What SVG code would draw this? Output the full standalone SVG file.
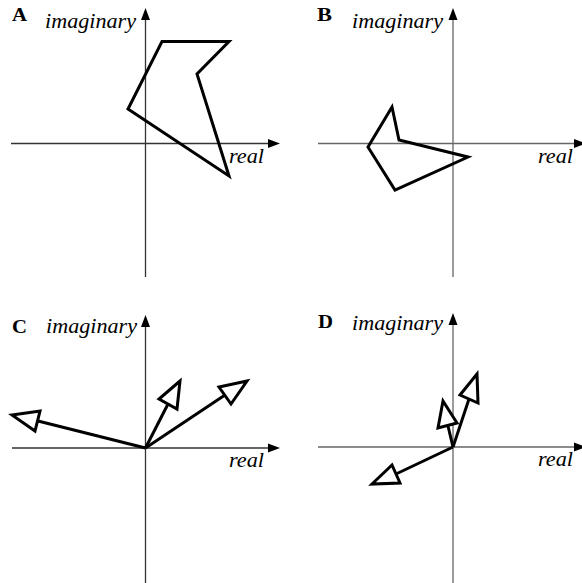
<svg xmlns="http://www.w3.org/2000/svg" width="582" height="583" viewBox="0 0 582 583">
<style>
.axis{stroke:#333;stroke-width:1.3;fill:none}
.axis2{stroke:#666;stroke-width:1.3;fill:none}
.ah{fill:#000;stroke:none}
.shape{stroke:#000;stroke-width:3;fill:none;stroke-linejoin:miter}
.head{stroke:#000;stroke-width:3;fill:#fff;stroke-linejoin:miter}
.lbl{font-family:'Liberation Serif','Times New Roman',Times,serif;font-weight:bold;font-size:18px;fill:#000}
.ax{font-family:'Liberation Serif','Times New Roman',Times,serif;font-style:italic;font-size:22px;fill:#000}
</style>
<rect width="582" height="583" fill="#fff"/>
<g id="panelA">
  <line class="axis" x1="145.5" y1="277" x2="145.5" y2="18"/>
  <polygon class="ah" points="145.5,8 141,20 150,20"/>
  <line class="axis" x1="11" y1="143.5" x2="270" y2="143.5"/>
  <polygon class="ah" points="280,143.5 268,139 268,148"/>
  <text class="lbl" x="12" y="21" textLength="15" lengthAdjust="spacingAndGlyphs">A</text>
  <text class="ax" x="45" y="28" textLength="91" lengthAdjust="spacingAndGlyphs">imaginary</text>
  <text class="ax" x="229" y="163" textLength="35" lengthAdjust="spacingAndGlyphs">real</text>
  <polygon class="shape" points="162,41.5 229,41.5 197,74 229,176 128,109"/>
</g>
<g id="panelB">
  <line class="axis2" x1="453" y1="277" x2="453" y2="18"/>
  <polygon class="ah" points="453,8 448.5,20 457.5,20"/>
  <line class="axis2" x1="318" y1="143.5" x2="576" y2="143.5"/>
  <polygon class="ah" points="586,143.5 574,139 574,148"/>
  <text class="lbl" x="317" y="21" textLength="15" lengthAdjust="spacingAndGlyphs">B</text>
  <text class="ax" x="352" y="28" textLength="91" lengthAdjust="spacingAndGlyphs">imaginary</text>
  <text class="ax" x="538" y="163" textLength="35" lengthAdjust="spacingAndGlyphs">real</text>
  <polygon class="shape" points="392,107 399,140 468,157 395,190 368,147"/>
</g>
<g id="panelC">
  <line class="axis" x1="145.5" y1="583" x2="145.5" y2="325"/>
  <polygon class="ah" points="145.5,315 141,327 150,327"/>
  <line class="axis" x1="12" y1="448" x2="270" y2="448"/>
  <polygon class="ah" points="280,448 268,443.5 268,452.5"/>
  <text class="lbl" x="12" y="333" textLength="15" lengthAdjust="spacingAndGlyphs">C</text>
  <text class="ax" x="46" y="333" textLength="91" lengthAdjust="spacingAndGlyphs">imaginary</text>
  <text class="ax" x="229" y="467" textLength="35" lengthAdjust="spacingAndGlyphs">real</text>
</g>
<g id="panelD">
  <line class="axis2" x1="453" y1="583" x2="453" y2="323"/>
  <polygon class="ah" points="453,313 448.5,325 457.5,325"/>
  <line class="axis2" x1="318" y1="447" x2="576" y2="447"/>
  <polygon class="ah" points="586,447 574,442.5 574,451.5"/>
  <text class="lbl" x="318" y="328" textLength="15" lengthAdjust="spacingAndGlyphs">D</text>
  <text class="ax" x="352" y="330" textLength="91" lengthAdjust="spacingAndGlyphs">imaginary</text>
  <text class="ax" x="538" y="466" textLength="35" lengthAdjust="spacingAndGlyphs">real</text>
</g>
<g id="connectors">
  <line class="shape" x1="145.5" y1="448" x2="168" y2="404"/>
  <polygon class="head" points="180,381 159,399 177,409"/>
  <line class="shape" x1="145.5" y1="448" x2="225" y2="395"/>
  <polygon class="head" points="247,381 219,387 231,404"/>
  <line class="shape" x1="145.5" y1="448" x2="38" y2="421"/>
  <polygon class="head" points="12,415 40,411 35,431"/>
  <line class="shape" x1="453" y1="447" x2="469" y2="399"/>
  <polygon class="head" points="477,374 460,395 478,403"/>
  <line class="shape" x1="453" y1="447" x2="448" y2="426"/>
  <polygon class="head" points="443,401 438,428 457,423"/>
  <line class="shape" x1="453" y1="447" x2="396" y2="474"/>
  <polygon class="head" points="372,484 392,465 400,483"/>
</g>
</svg>
